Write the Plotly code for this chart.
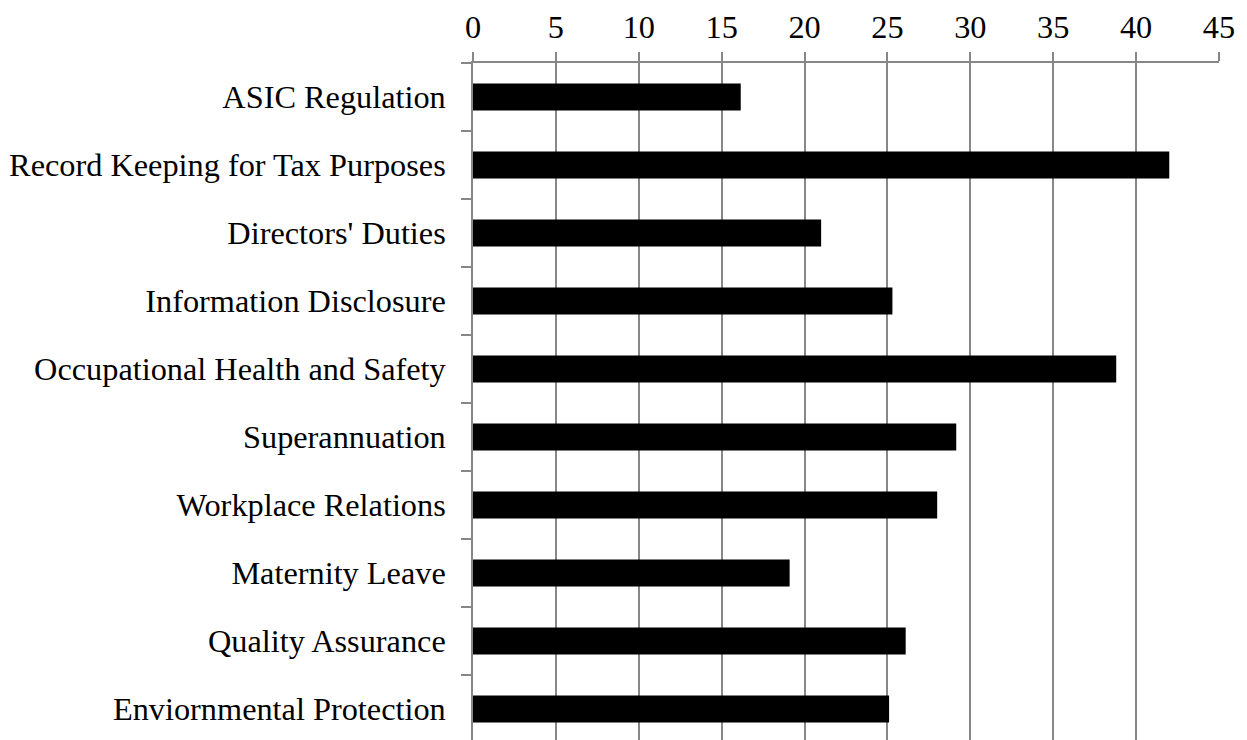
import plotly.graph_objects as go

categories = [
    "ASIC Regulation",
    "Record Keeping for Tax Purposes",
    "Directors' Duties",
    "Information Disclosure",
    "Occupational Health and Safety",
    "Superannuation",
    "Workplace Relations",
    "Maternity Leave",
    "Quality Assurance",
    "Enviornmental Protection",
]
values = [16.15, 42.0, 21.0, 25.3, 38.8, 29.15, 28.0, 19.1, 26.1, 25.1]
x_ticks = [0, 5, 10, 15, 20, 25, 30, 35, 40, 45]

FONT = "Liberation Serif, Times New Roman, serif"
GRID = "#878787"

fig = go.Figure(
    go.Bar(
        x=values,
        y=categories,
        orientation="h",
        marker=dict(color="black", line=dict(width=0)),
        hoverinfo="x+y",
    )
)

fig.update_layout(
    width=1247,
    height=740,
    margin=dict(l=473, r=28, t=63, b=0, pad=0),
    paper_bgcolor="white",
    plot_bgcolor="white",
    bargap=0.605,
    showlegend=False,
    font=dict(family=FONT, size=32.3, color="black"),
)

fig.update_xaxes(
    side="top",
    range=[0, 45],
    tickmode="array",
    tickvals=x_ticks,
    ticktext=[str(t) for t in x_ticks],
    showgrid=True,
    gridcolor=GRID,
    gridwidth=1.6,
    showline=True,
    linecolor=GRID,
    linewidth=1.6,
    ticks="outside",
    ticklen=9,
    tickcolor=GRID,
    tickwidth=1.6,
    zeroline=False,
    tickfont=dict(family=FONT, size=32.3, color="black"),
    ticklabelstandoff=1,
)

fig.update_yaxes(
    type="category",
    range=[9.5 - 3 / 68, -0.5],
    showgrid=False,
    showline=True,
    linecolor=GRID,
    linewidth=1.6,
    ticks="outside",
    tickson="boundaries",
    ticklen=10,
    tickcolor=GRID,
    tickwidth=1.6,
    zeroline=False,
    tickfont=dict(family=FONT, size=32.3, color="black"),
    ticklabelstandoff=19,
)

fig.write_html("out.html")
